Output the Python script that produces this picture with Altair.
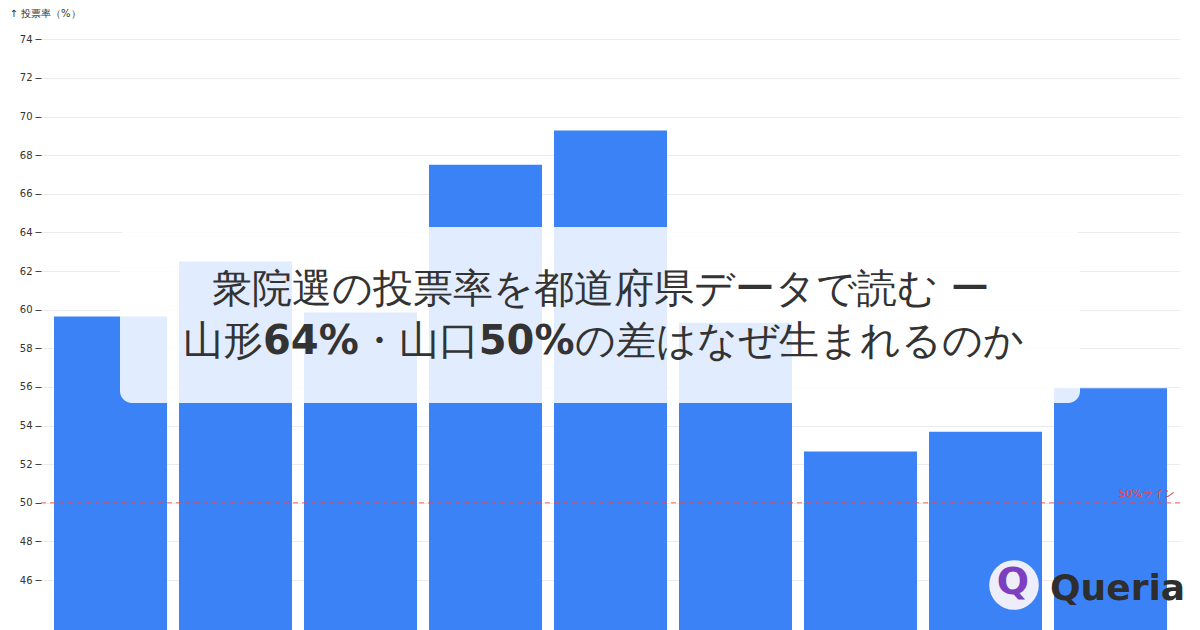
import altair as alt
import pandas as pd

# ---- data ----
years = ["1996", "2000", "2003", "2005", "2009", "2012", "2014", "2017", "2021"]
turnout = [59.65, 62.49, 59.86, 67.51, 69.28, 59.32, 52.66, 53.68, 55.93]
y_ticks = [46, 48, 50, 52, 54, 56, 58, 60, 62, 64, 66, 68, 70, 72, 74]
ref_value = [50]
ref_label = ["50%ライン"]
y_title = "↑ 投票率（%）"
title_line1 = ["衆院選の投票率を都道府県データで読む ー"]
title_line2 = ["山形", "64%", "・山口", "50%", "の差はなぜ生まれるのか"]
title_line2_bold = [False, True, False, True, False]
brand = ["Queria"]
brand_icon = ["Q"]

# ---- layout ----
FONT = "DejaVu Sans"
W, H = 1139, 618
PAD_L, PAD_T = 33, 12
FS = 40
# assumed advances (em) of each segment in line 2
seg_em = [2.0, 2.394, 3.0, 2.394, 11.0]
start = 183 - 8 - PAD_L

df = pd.DataFrame({"year": years, "turnout": turnout})

bars = alt.Chart(df).mark_bar(color="#3b82f6", clip=True).encode(
    x=alt.X("year:N", sort=years, axis=None,
            scale=alt.Scale(paddingInner=0.096, paddingOuter=0.104)),
    y=alt.Y("turnout:Q",
            scale=alt.Scale(domain=[43, 75], nice=False, zero=False),
            axis=alt.Axis(values=y_ticks, title=y_title, titleAngle=0,
                          titleAlign="left", titleBaseline="middle",
                          titleX=-32, titleY=-7, titleFontSize=10,
                          titleFontWeight="normal", titleColor="#333",
                          labelFontSize=10, labelColor="#333", labelPadding=3,
                          tickSize=6, tickColor="#444", domain=False,
                          grid=True, gridColor="#ebebeb")),
)

ref_df = pd.DataFrame({"v": ref_value, "label": ref_label})
rule = alt.Chart(ref_df).mark_rule(color="#ef4444", strokeDash=[5, 4],
                                   strokeWidth=1, opacity=0.8).encode(y="v:Q")
rule_text = alt.Chart(ref_df).mark_text(color="#ef4444", align="right",
                                        baseline="alphabetic", dy=-6,
                                        fontSize=10.5).encode(
    y="v:Q", x=alt.value(1134), text="label:N")

box = alt.Chart(pd.DataFrame({"a": [0]})).mark_rect(
    color="white", opacity=0.85, cornerRadius=12).encode(
    x=alt.value(79), x2=alt.value(1039), y=alt.value(207), y2=alt.value(383))

t1 = alt.Chart(pd.DataFrame({"t": title_line1})).mark_text(
    fontSize=FS, color="#333", align="center", baseline="middle").encode(
    x=alt.value(560), y=alt.value(270), text="t:N")

layers = [bars, rule, rule_text, box, t1]
x = start
for seg, em, b in zip(title_line2, seg_em, title_line2_bold):
    layers.append(
        alt.Chart(pd.DataFrame({"t": [seg]})).mark_text(
            fontSize=FS, color="#333", align="left", baseline="middle",
            fontWeight="bold" if b else "normal").encode(
            x=alt.value(x), y=alt.value(322), text="t:N"))
    x += em * FS

circle = alt.Chart(pd.DataFrame({"a": [0]})).mark_point(
    filled=True, shape="circle", size=2463, color="#eeeefa", opacity=1).encode(
    x=alt.value(973), y=alt.value(565))
icon = alt.Chart(pd.DataFrame({"t": brand_icon})).mark_text(
    fontSize=38, fontWeight="bold", color="#7b3fbf", align="center",
    baseline="middle").encode(x=alt.value(972), y=alt.value(563), text="t:N")
brand_t = alt.Chart(pd.DataFrame({"t": brand})).mark_text(
    fontSize=36, fontWeight="bold", color="#2e2e2e", align="left",
    baseline="alphabetic").encode(x=alt.value(1009), y=alt.value(580), text="t:N")
layers += [circle, icon, brand_t]

chart = alt.layer(*layers).properties(
    width=W, height=H,
    autosize=alt.AutoSizeParams(type="none"),
    padding={"left": PAD_L, "top": PAD_T, "right": 12, "bottom": 0},
    background="white",
).configure(font=FONT).configure_view(stroke=None)

chart.save("out.html", embed_options={"renderer": "svg", "actions": False})
